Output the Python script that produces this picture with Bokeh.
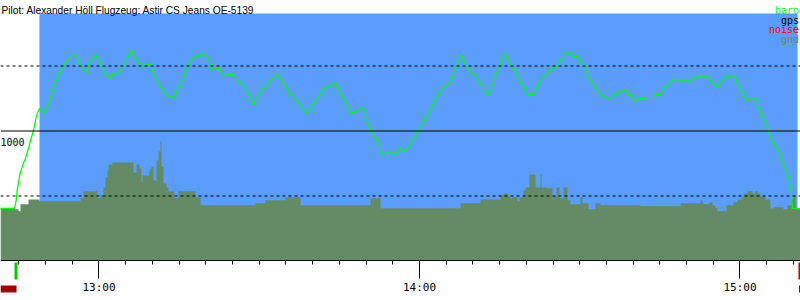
from bokeh.plotting import figure
from bokeh.models import Range1d, Span, FixedTicker
from bokeh.core.properties import value
from bokeh.embed import file_html
from bokeh.resources import INLINE

# ---------------- data (time = minutes after 12:00, altitude in m) ----------------
title_text = "Pilot: Alexander Höll Flugzeug: Astir CS Jeans OE-5139"
legend_names = ["baro", "gps", "noise", "gnd"]
legend_colors = ["#00ff00", "#000000", "#ff0000", "#648c64"]

baro_t = [41.56, 44.18, 44.50, 44.69, 44.99, 45.30, 45.62, 45.92, 46.24, 46.80, 47.18, 47.74,
          48.11, 48.49, 48.86, 49.05, 49.42, 49.80, 50.17, 50.55, 50.92, 51.29, 51.86, 52.42,
          53.17, 53.54, 54.10, 54.66, 55.23, 55.79, 56.16, 56.54, 57.10, 57.66, 58.03, 58.60,
          59.34, 59.91, 60.47, 61.03, 61.59, 61.97, 62.53, 63.09, 63.65, 64.21, 64.77, 65.34,
          65.71, 66.08, 66.46, 67.02, 67.58, 68.14, 68.70, 69.27, 69.64, 70.02, 70.58, 71.14,
          71.70, 72.26, 72.82, 73.39, 73.95, 74.32, 74.70, 75.26, 75.82, 76.38, 76.94, 77.50,
          78.07, 78.44, 79.00, 79.56, 80.13, 80.69, 81.06, 81.81, 82.37, 82.93, 83.49, 84.24,
          84.99, 85.74, 86.30, 86.86, 87.43, 87.99, 88.55, 88.92, 89.49, 90.05, 90.61, 91.17,
          91.73, 92.29, 92.86, 93.42, 93.98, 94.54, 95.10, 95.66, 96.23, 96.79, 97.35, 97.91,
          98.47, 99.03, 99.60, 100.16, 100.72, 101.28, 101.84, 102.40, 102.97, 103.71, 104.28,
          104.84, 105.40, 105.96, 106.52, 107.08, 107.65, 108.21, 108.77, 109.33, 109.70, 110.08,
          110.64, 111.20, 111.76, 112.33, 112.70, 113.26, 114.01, 114.57, 115.13, 115.69, 116.44,
          117.00, 117.57, 118.13, 118.69, 119.25, 119.81, 120.38, 120.94, 121.50, 122.06, 122.62,
          123.18, 123.75, 124.31, 124.87, 125.43, 125.99, 126.37, 126.93, 127.30, 127.68, 128.24,
          128.61, 129.17, 129.74, 130.30, 130.86, 131.42, 131.98, 132.54, 132.92, 133.48, 134.04,
          134.60, 135.17, 135.73, 136.10, 136.66, 137.22, 137.79, 138.35, 138.91, 139.47, 140.03,
          140.59, 140.97, 141.53, 142.09, 142.65, 143.22, 143.78, 144.34, 144.90, 145.46, 146.02,
          146.58, 147.15, 147.71, 148.27, 148.83, 149.39, 149.95, 150.52, 151.08, 151.64, 152.20,
          152.76, 153.32, 153.89, 154.45, 155.01, 155.57, 156.13, 156.69, 157.26, 158.00, 158.57,
          159.13, 159.69, 160.25, 160.81, 161.37, 161.94, 162.50, 163.06, 163.62, 164.18, 164.74,
          165.30, 165.87, 166.43, 166.99, 167.55, 168.11, 168.67, 169.24, 169.80, 170.36, 170.92,
          171.48, 172.04, 172.61, 173.17, 173.73, 174.29, 174.85, 175.41, 175.98, 176.54, 177.10,
          177.66, 178.22, 178.78, 179.16, 179.53, 180.09, 180.66, 181.22, 181.78, 182.34, 182.90,
          183.46, 184.03, 184.59, 185.15, 185.71, 186.27, 186.84, 187.40, 187.96, 188.52, 189.08,
          189.46, 189.64, 189.83, 191.33]
baro_alt = [405, 405, 467, 543, 620, 684, 720, 760, 789, 865, 927, 1003,
            1080, 1141, 1172, 1172, 1157, 1136, 1172, 1210, 1256, 1310, 1371, 1440,
            1486, 1517, 1540, 1578, 1586, 1578, 1540, 1502, 1471, 1448, 1502, 1555,
            1586, 1555, 1502, 1448, 1440, 1402, 1433, 1440, 1448, 1486, 1517, 1563,
            1594, 1624, 1578, 1555, 1509, 1494, 1509, 1517, 1509, 1463, 1410, 1364,
            1333, 1295, 1272, 1264, 1249, 1272, 1325, 1348, 1410, 1479, 1525, 1563,
            1578, 1571, 1594, 1594, 1571, 1540, 1471, 1479, 1479, 1448, 1425, 1433,
            1433, 1410, 1371, 1364, 1341, 1287, 1233, 1195, 1249, 1287, 1325, 1333,
            1371, 1402, 1417, 1433, 1410, 1364, 1333, 1287, 1279, 1241, 1218, 1187,
            1149, 1141, 1172, 1210, 1241, 1272, 1302, 1333, 1341, 1356, 1364,
            1325, 1272, 1241, 1195, 1141, 1141, 1149, 1164, 1172, 1157, 1095,
            1026, 980, 950, 904, 827, 827, 827, 835, 819, 835, 865,
            835, 865, 888, 927, 965, 1003, 1042, 1080, 1118, 1157, 1218,
            1256, 1295, 1333, 1348, 1364, 1387, 1440, 1486, 1540, 1578, 1563,
            1509, 1479, 1440, 1433, 1394, 1364, 1325, 1287, 1279, 1333, 1410,
            1463, 1517, 1578, 1594, 1540, 1494, 1471, 1425, 1371, 1348, 1287,
            1279, 1279, 1295, 1348, 1387, 1417, 1440, 1463, 1479, 1494, 1517,
            1548, 1586, 1601, 1601, 1571, 1578, 1555, 1517, 1471, 1410, 1387,
            1348, 1318, 1287, 1264, 1256, 1249, 1272, 1287, 1295, 1310, 1318,
            1279, 1279, 1233, 1241, 1249, 1249, 1256, 1256, 1256, 1279, 1279,
            1287, 1333, 1356, 1371, 1402, 1394, 1394, 1387, 1402, 1371, 1394,
            1410, 1425, 1425, 1417, 1417, 1394, 1379, 1348, 1341, 1379, 1410,
            1417, 1417, 1433, 1417, 1364, 1318, 1287, 1233, 1256, 1256, 1249,
            1180, 1134, 1080, 1019, 950, 904, 873, 827, 758, 712, 643,
            566, 520, 405, 398]

gnd_t = [41.56, 44.18, 44.93, 45.30, 46.80, 48.86, 56.54, 57.10, 59.72, 60.28, 60.84, 61.22,
         61.59, 61.78, 62.53, 66.46, 67.02, 67.58, 67.96, 68.14, 69.45, 69.83, 70.20, 70.76,
         71.14, 71.51, 71.70, 72.07, 72.64, 73.01, 74.13, 74.88, 78.07, 79.00, 89.30, 91.17,
         94.91, 97.72, 110.83, 112.70, 127.68, 131.42, 135.17, 135.73, 136.66, 137.03, 137.41,
         138.35, 138.72, 139.47, 139.85, 140.59, 141.72, 142.65, 142.84, 143.78, 144.90, 145.65,
         146.21, 146.96, 147.71, 148.27, 150.14, 150.52, 151.64, 152.95, 153.89, 161.37, 168.86,
         172.61, 172.98, 173.17, 174.29, 174.85, 175.41, 175.79, 177.47, 178.78, 179.53, 180.28,
         180.66, 181.41, 182.34, 182.90, 183.28, 183.84, 184.77, 185.71, 186.46, 188.15, 188.89,
         189.64, 190.02, 190.39, 191.33]
gnd_alt = [405, 398, 382, 436, 474, 459, 482, 536, 482, 505, 566, 643,
           697, 743, 758, 681, 743, 712, 605, 658, 704, 727, 620, 773,
           842, 919, 727, 597, 566, 536, 482, 536, 490, 428, 444, 467,
           490, 428, 482, 405, 444, 474, 505, 520, 497, 482, 490,
           459, 490, 543, 566, 666, 566, 666, 566, 559, 497, 566,
           482, 566, 467, 436, 490, 444, 398, 444, 428, 421, 444,
           467, 444, 436, 451, 428, 405, 382, 428, 451, 474, 490,
           520, 536, 520, 536, 520, 497, 474, 405, 413, 398, 428,
           474, 505, 405, 405]

hour_ticks = [60, 120, 180]
hour_labels = ["13:00", "14:00", "15:00"]
minor_ticks = list(range(45, 191, 5))

ref_solid = [1000]
ref_dashed = [500, 1500]
ref_label = "1000"

task_start, task_end = 48.86, 190.77   # shaded (blue) period
takeoff_t = [44.18, 44.74]
landing_t = [190.95, 191.33]
pre_flight = [41.56, 44.56]

# ---------------- styling ----------------
BLUE = "#5a9dff"
GND = "#648c64"
X0, X1 = 41.56, 191.33
Y0, Y1 = -303.85, 2003.85

p = figure(width=800, height=300, x_range=Range1d(X0, X1), y_range=Range1d(Y0, Y1),
           output_backend="svg", toolbar_location=None, min_border=0,
           y_axis_location=None, x_axis_location="below",
           background_fill_color="white", border_fill_color="white")
p.outline_line_color = None
p.xgrid.visible = False
p.ygrid.visible = False

p.quad(left=[task_start], right=[task_end], bottom=[0], top=[1904],
       fill_color=BLUE, line_color=None)

p.varea_step(x=gnd_t, y1=[0] * len(gnd_t), y2=gnd_alt, step_mode="after",
             fill_color=GND)

for lv in ref_solid:
    p.add_layout(Span(location=lv, dimension="width", line_color="black", line_width=1))
for lv in ref_dashed:
    p.add_layout(Span(location=lv, dimension="width", line_color="black", line_width=1,
                      line_dash="3 3"))

p.line(baro_t, baro_alt, line_color="#00ff00", line_width=1.3)

# markers below the time axis
p.quad(left=[takeoff_t[0]], right=[takeoff_t[1]], bottom=[-142], top=[-11],
       fill_color="#00cc00", line_color=None)
p.quad(left=[pre_flight[0]], right=[pre_flight[1]], bottom=[-242], top=[-189],
       fill_color="#a00000", line_color=None)
p.quad(left=[landing_t[0]], right=[landing_t[1]], bottom=[-142], top=[-11],
       fill_color="#cc0000", line_color=None)
p.quad(left=[landing_t[0] + 0.1], right=[landing_t[0] + 0.3], bottom=[-242], top=[-189],
       fill_color="#a00000", line_color=None)

ax = p.xaxis[0]
ax.fixed_location = 0
ax.ticker = FixedTicker(ticks=hour_ticks, minor_ticks=minor_ticks)
ax.major_label_overrides = {t: l for t, l in zip(hour_ticks, hour_labels)}
ax.axis_line_color = "black"
ax.major_tick_line_color = "black"
ax.minor_tick_line_color = "black"
ax.major_tick_in = 0
ax.major_tick_out = 18
ax.minor_tick_in = 0
ax.minor_tick_out = 4
ax.major_label_standoff = 2
ax.major_label_text_font = "DejaVu Sans Mono"
ax.major_label_text_font_size = "11px"
ax.major_label_text_color = "black"

p.text(x=[X0 + 0.19], y=[1927], text=[title_text], text_font=value("Liberation Sans"),
       text_font_size="10.2px", text_color="black", text_baseline="alphabetic",
       text_align="left")

p.text(x=[191.07] * 4, y=[1927, 1852, 1779, 1707], text=legend_names,
       text_color=legend_colors, text_font=value("DejaVu Sans Mono"),
       text_font_size="10px", text_baseline="alphabetic", text_align="right")

p.text(x=[X0], y=[919], text=[ref_label], text_font=value("DejaVu Sans Mono"),
       text_font_size="10px", text_color="black", text_baseline="alphabetic",
       text_align="left")

open("out.html", "w").write(file_html(p, INLINE))
